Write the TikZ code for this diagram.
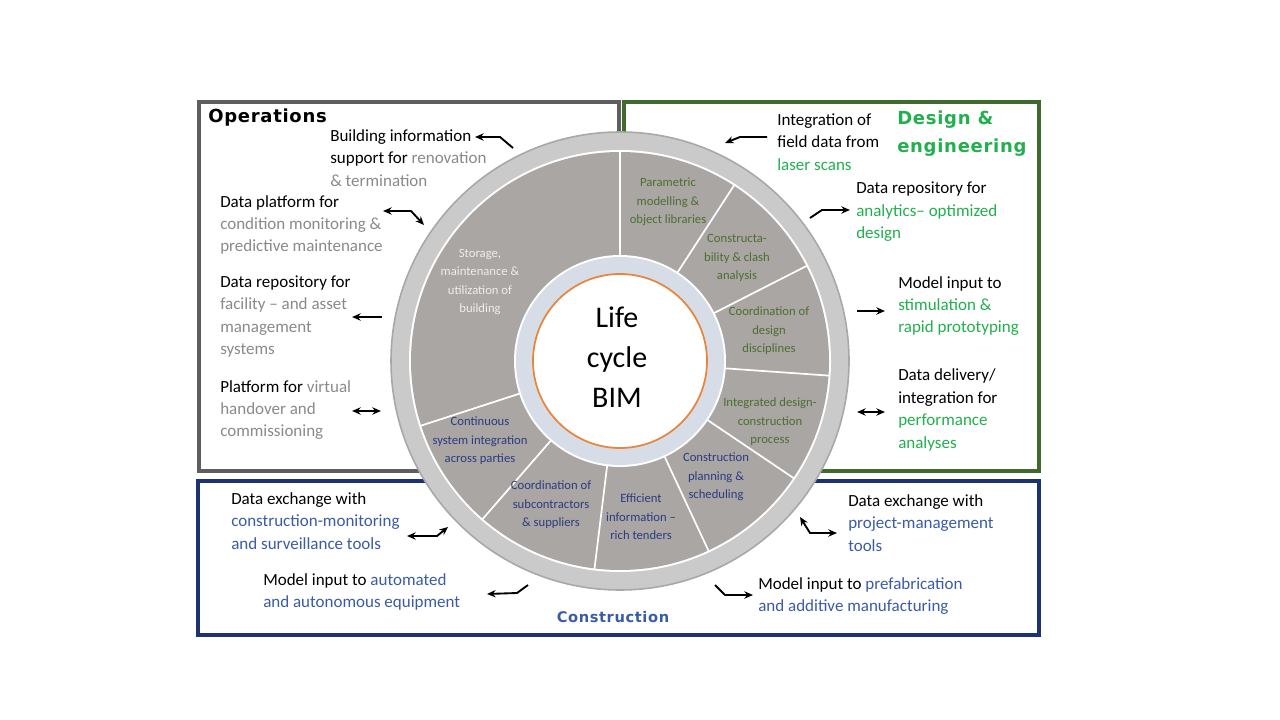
\documentclass[tikz,border=0pt]{standalone}
\usepackage{fontspec}
\setmainfont{Carlito}
\newfontfamily\headfont[LetterSpace=4]{DejaVu Sans}
\usetikzlibrary{arrows.meta, calc}

\definecolor{opsgray}{HTML}{8A8A8A}
\definecolor{dsgreen}{HTML}{22B04E}
\definecolor{cnblue}{HTML}{3A5CA6}
\definecolor{boxgray}{HTML}{5E5E5E}
\definecolor{boxgreen}{HTML}{3E6A2E}
\definecolor{boxnavy}{HTML}{1B3273}
\definecolor{ringgray}{HTML}{CACACA}
\definecolor{ringedge}{HTML}{A8A8A8}
\definecolor{sectgray}{HTML}{A9A6A4}
\definecolor{hubblue}{HTML}{D6DDE6}
\definecolor{hubline}{HTML}{E8853C}
\definecolor{sectolive}{HTML}{4C6E2F}
\definecolor{sectnavy}{HTML}{2B3B80}
\definecolor{sectlight}{HTML}{EEEEEE}

\begin{document}
\begin{tikzpicture}[x=0.75pt, y=0.75pt, >={Stealth[length=6.5pt, width=5.5pt]},
  outtxt/.style={font=\fontsize{12.75}{16.8}\selectfont, align=left, anchor=west, inner sep=0pt},
  secttxt/.style={font=\fontsize{9.5}{13.9}\selectfont, align=center, inner sep=0pt},
  headtxt/.style={font=\headfont\bfseries\fontsize{13.5}{21}\selectfont, inner sep=0pt},
  phasebox/.style={line width=3pt},
  link/.style={line width=1.4pt, line join=round}]

  \useasboundingbox (0,0) rectangle (1280,-720);
  \fill[white] (0,0) rectangle (1280,-720);

  % phase boxes
  \draw[phasebox, boxgray] (199,-102) rectangle (619,-471);
  \draw[phasebox, boxgreen] (624,-102) rectangle (1039,-471);
  \draw[phasebox, boxnavy] (198,-481) rectangle (1039,-635);

  % wheel
  \coordinate (c) at (620,-361);
  \fill[ringgray, draw=ringedge, line width=1.2pt] (c) circle[radius=229];
  \fill[white] (c) circle[radius=211];
  \fill[sectgray] (c) circle[radius=209];
  \foreach \a in {90,57,27,-4,-34,-65,-97,-131,-162}
    \draw[white, line width=1.3pt] ($(c)+(\a:100)$) -- ($(c)+(\a:210)$);
  \fill[white] (c) circle[radius=106];
  \fill[hubblue] (c) circle[radius=104];
  \draw[hubline, fill=white, line width=1.3pt] (c) circle[radius=87];
  \node[font=\fontsize{22.5}{30}\selectfont, align=center, inner sep=0pt] (hub) at (617,-357) {Life\\cycle\\BIM};

  % sector labels
  \node[secttxt, sectlight] (sStore) at (480,-282) {Storage,\\maintenance \&\\utilization of\\building};
  \node[secttxt, sectolive] (sParam) at (668,-202) {Parametric\\modelling \&\\object libraries};
  \node[secttxt, sectolive] (sClash) at (737,-258) {Constructa-\\bility \& clash\\analysis};
  \node[secttxt, sectolive] (sCoord) at (769,-331) {Coordination of\\design\\disciplines};
  \node[secttxt, sectolive] (sInteg) at (770,-422) {Integrated design-\\construction\\process};
  \node[secttxt, sectnavy] (sPlan) at (716,-477) {Construction\\planning \&\\scheduling};
  \node[secttxt, sectnavy] (sTender) at (641,-517) {Efficient\\information –\\rich tenders};
  \node[secttxt, sectnavy] (sSub) at (551,-505) {Coordination of\\subcontractors\\\& suppliers};
  \node[secttxt, sectnavy] (sCont) at (480,-441) {Continuous\\system integration\\across parties};

  % headings
  \node[headtxt, anchor=west] (hOps) at (208,-118) {Operations};
  \node[headtxt, anchor=west, align=left, dsgreen] (hDes) at (897,-134) {Design \&\\engineering};
  \node[headtxt, cnblue, font=\headfont\bfseries\fontsize{11}{14}\selectfont] (hCon) at (613,-617) {Construction};

  % operations
  \node[outtxt] (ops1) at (330,-158) {Building information\\support for {\color{opsgray}renovation}\\{\color{opsgray}\& termination}};
  \node[outtxt] (ops2) at (220,-225) {Data platform for\\{\color{opsgray}condition monitoring \&}\\{\color{opsgray}predictive maintenance}};
  \node[outtxt] (ops3) at (220,-316.5) {Data repository for\\{\color{opsgray}facility – and asset}\\{\color{opsgray}management}\\{\color{opsgray}systems}};
  \node[outtxt] (ops4) at (220,-410) {Platform for {\color{opsgray}virtual}\\{\color{opsgray}handover and}\\{\color{opsgray}commissioning}};

  % design & engineering
  \node[outtxt] (des1) at (777,-142) {Integration of\\field data from\\{\color{dsgreen}laser scans}};
  \node[outtxt] (des2) at (856,-212) {Data repository for\\{\color{dsgreen}analytics– optimized}\\{\color{dsgreen}design}};
  \node[outtxt] (des3) at (898,-306) {Model input to\\{\color{dsgreen}stimulation \&}\\{\color{dsgreen}rapid prototyping}};
  \node[outtxt] (des4) at (898,-410) {Data delivery/\\integration for\\{\color{dsgreen}performance}\\{\color{dsgreen}analyses}};

  % construction
  \node[outtxt] (con1) at (231,-521) {Data exchange with\\{\color{cnblue}construction-monitoring}\\{\color{cnblue}and surveillance tools}};
  \node[outtxt] (con2) at (263,-592) {Model input to {\color{cnblue}automated}\\{\color{cnblue}and autonomous equipment}};
  \node[outtxt] (con3) at (848,-523) {Data exchange with\\{\color{cnblue}project-management}\\{\color{cnblue}tools}};
  \node[outtxt] (con4) at (758,-596) {Model input to {\color{cnblue}prefabrication}\\{\color{cnblue}and additive manufacturing}};

  % arrow points
  \coordinate (a1s) at (513,-148); \coordinate (a1m) at (500,-137); \coordinate (a1e) at (475,-137);
  \coordinate (a2s) at (383,-211); \coordinate (a2m) at (411,-211); \coordinate (a2e) at (424,-225);
  \coordinate (a3s) at (382,-317); \coordinate (a3e) at (352,-317);
  \coordinate (a4s) at (352,-411); \coordinate (a4e) at (381,-411);
  \coordinate (a5s) at (767,-137); \coordinate (a5m) at (740,-137); \coordinate (a5e) at (725,-143);
  \coordinate (a6s) at (810,-218); \coordinate (a6m) at (822,-210); \coordinate (a6e) at (850,-210);
  \coordinate (a7s) at (857,-311); \coordinate (a7e) at (885,-311);
  \coordinate (a8s) at (857,-412); \coordinate (a8e) at (885,-412);
  \coordinate (a9s) at (407,-536); \coordinate (a9m) at (437,-536); \coordinate (a9e) at (448,-527);
  \coordinate (a10s) at (528,-585); \coordinate (a10m) at (517,-593); \coordinate (a10e) at (487,-594);
  \coordinate (a11s) at (800,-517); \coordinate (a11m) at (810,-533); \coordinate (a11e) at (837,-533);
  \coordinate (a12s) at (715,-585); \coordinate (a12m) at (725,-595); \coordinate (a12e) at (753,-595);

  % arrows
  \draw[link, ->] (a1s) -- (a1m) -- (a1e);
  \draw[link, <->] (a2s) -- (a2m) -- (a2e);
  \draw[link, ->] (a3s) -- (a3e);
  \draw[link, <->] (a4s) -- (a4e);
  \draw[link, ->] (a5s) -- (a5m) -- (a5e);
  \draw[link, ->] (a6s) -- (a6m) -- (a6e);
  \draw[link, ->] (a7s) -- (a7e);
  \draw[link, <->] (a8s) -- (a8e);
  \draw[link, <->] (a9s) -- (a9m) -- (a9e);
  \draw[link, ->] (a10s) -- (a10m) -- (a10e);
  \draw[link, <->] (a11s) -- (a11m) -- (a11e);
  \draw[link, ->] (a12s) -- (a12m) -- (a12e);
\end{tikzpicture}
\end{document}
